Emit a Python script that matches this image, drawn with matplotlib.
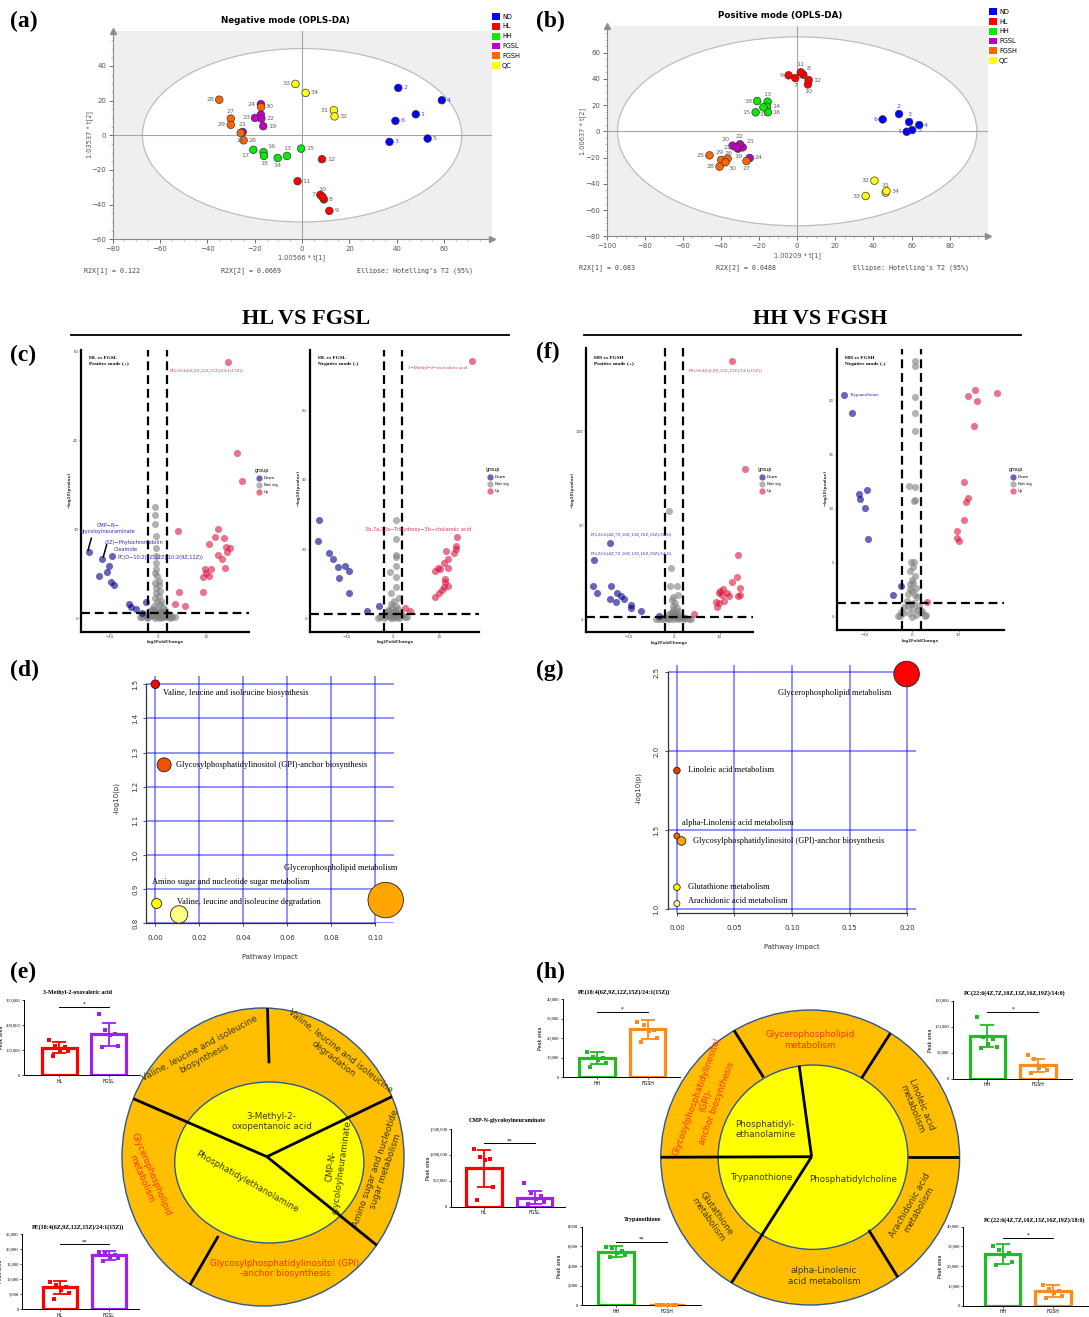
import numpy as np
import matplotlib
matplotlib.use('Agg')
import matplotlib.pyplot as plt
from matplotlib.patches import Ellipse, Patch
from matplotlib.lines import Line2D
from matplotlib.ticker import MultipleLocator, StrMethodFormatter

W, H = 1089, 1317
SERIF = 'Liberation Serif'
SANS = 'DejaVu Sans'
MONO = 'DejaVu Sans Mono'
plt.rcParams['font.family'] = SANS

# ---------------- OPLS-DA scores (a), (b) ----------------
grp_names = ['ND', 'HL', 'HH', 'FGSL', 'FGSH', 'QC']
grp_cols = ['#0000ff', '#ff0000', '#00ee00', '#c000c0', '#ff6600', '#ffff00']
sample_ids = list(range(1, 35))
sample_grp = [0] * 6 + [1] * 6 + [2] * 6 + [3] * 6 + [4] * 6 + [5] * 4

neg_t1 = [48.0, 40.6, 36.9, 59.0, 53.0, 39.4,
          7.7, 9.2, 11.5, 8.6, -1.9, 8.4,
          -6.4, -10.3, -0.4, -16.3, -20.6, -16.1,
          -16.4, -17.4, -25.1, -17.2, -19.9, -17.4,
          -25.9, -24.7, -30.1, -35.0, -30.1, -17.3,
          13.4, 13.7, -2.8, 1.5]
neg_t2 = [12.1, 27.3, -3.8, 20.2, -1.9, 8.3,
          -34.4, -37.0, -43.6, -35.5, -26.5, -13.8,
          -11.9, -13.1, -7.7, -9.8, -8.4, -11.9,
          5.2, 11.9, 1.9, 9.6, 10.0, 17.9,
          1.3, -2.9, 9.6, 20.5, 6.0, 16.3,
          14.4, 10.9, 29.6, 24.4]
neg_lab = ['r', 'r', 'r', 'r', 'r', 'r',
           'l', 'r', 'r', 'u', 'r', 'r',
           'u', 'd', 'r', 'ur', 'dl', 'd',
           'r', '', 'u', 'r', 'l', 'l',
           'd', 'r', 'u', 'l', 'l', 'r',
           'l', 'r', 'l', 'r']

pos_t1 = [57.4, 53.4, 58.7, 64.0, 60.3, 44.8,
          -1.0, 3.2, -4.5, 5.6, 1.9, 6.0,
          -15.5, -15.9, -21.8, -15.4, -17.7, -21.0,
          -31.0, -33.9, -28.6, -30.0, -31.7, -24.9,
          -46.0, -39.8, -26.6, -40.7, -36.5, -37.6,
          46.4, 40.5, 35.9, 46.8]
pos_t2 = [-0.3, 13.2, 7.1, 4.8, 1.0, 9.1,
          40.6, 43.2, 42.7, 35.8, 45.0, 39.1,
          22.6, 18.8, 14.5, 14.5, 18.3, 23.1,
          -13.2, -10.9, -12.2, -9.9, -12.4, -20.3,
          -18.3, -21.8, -22.6, -26.9, -20.8, -23.6,
          -46.7, -37.6, -49.3, -45.5]
pos_lab = ['l', 'u', 'u', 'r', 'r', 'l',
           'd', 'ur', 'l', 'd', 'u', 'r',
           'u', 'r', 'l', 'r', 'd', 'l',
           'd', 'ul', 'ur', 'u', 'l', 'r',
           'l', 'ur', 'd', 'l', 'ul', 'dr',
           'u', 'l', 'l', 'r']

# ---------------- volcano plots (c), (f) ----------------
cl_up_x = [14.6, 16.6, 17.6, 4.3, 12.6, 12.0, 13.9, 10.7, 14.2, 15.2, 14.4, 12.6, 13.4, 14.0,
           9.8, 11.2, 10.1, 10.7, 9.4, 4.5, 9.5, 3.6, 5.6]
cl_up_y = [57.7, 37.2, 30.9, 19.6, 20.1, 18.3, 18.1, 16.6, 16.1, 15.8, 14.8, 14.3, 13.3, 11.3,
           11.0, 11.2, 10.3, 9.5, 9.4, 6.0, 6.0, 3.2, 2.8]
cl_dn_x = [-14.4, -11.6, -9.5, -10.3, -10.7, -12.3, -9.8, -9.2, -6.1, -4.6, -2.4, -5.6, -3.3]
cl_dn_y = [14.8, 13.3, 14.0, 11.8, 10.5, 9.5, 8.2, 7.4, 3.2, 2.2, 3.7, 2.6, 1.2]
cl_ns_x = [-0.5, -0.5, -0.5, -0.4, -0.4, -0.4, -0.4, -0.3, -0.5, -0.2, 0.2, -0.6, 0.3, -0.4,
           0.5, -0.3, 0.2, -0.5, 0.6, -0.2, 0.4, -0.8, 1.0, -1.2, 0.1, 1.5, -1.6, 0.7, -0.9,
           2.2, -2.5, 0.3, 1.8, -1.8, 3.0, -3.2, 0.0, 1.1, -0.6, 2.5, -2.2, 0.5,
           -1.0, 0.8, -0.3, 1.3, -2.0, 2.0, -0.7, 0.9, -1.4, 1.6, -3.8, 3.5, 0.0, -0.2, 0.4,
           -2.8, 2.8, -1.1, 1.2]
cl_ns_y = [25.1, 23.2, 21.2, 18.5, 15.7, 13.9, 12.4, 11.2, 10.3, 9.5, 8.5, 8.0, 7.5, 6.8,
           6.2, 5.6, 5.0, 4.5, 4.0, 3.6, 3.2, 2.8, 2.5, 2.2, 2.0, 1.8, 1.6, 1.5, 1.2,
           1.0, 0.9, 0.8, 0.6, 0.5, 0.4, 0.3, 0.3, 0.2, 0.1, 0.1, 0.1, 0.0,
           0.5, 0.4, 1.0, 1.1, 0.3, 0.2, 1.8, 1.3, 0.8, 0.6, 0.2, 0.2, 1.1, 0.6, 1.6,
           0.7, 0.6, 1.4, 0.9]

cr_up_x = [17.2, 14.1, 13.7, 13.8, 11.7, 13.3, 12.1, 11.1, 12.1, 9.8, 9.3, 10.3, 11.4, 11.5,
           12.0, 11.1, 10.7, 10.2, 9.3, 2.6, 3.7]
cr_up_y = [74.4, 23.4, 20.9, 19.9, 19.5, 18.8, 17.0, 15.9, 14.5, 14.4, 13.8, 14.1, 11.3, 10.6,
           9.3, 9.1, 8.2, 7.2, 6.1, 2.9, 2.2]
cr_dn_x = [-16.2, -16.4, -14.0, -13.1, -12.0, -10.4, -9.5, -11.7, -9.6, -5.7, -3.1]
cr_dn_y = [28.5, 22.4, 19.0, 17.0, 14.9, 15.1, 13.8, 11.5, 7.2, 2.2, 3.6]
cr_ns_x = [0.7, 0.7, 0.7, 0.7, 0.7, 0.7, -0.6, 0.7, -0.4, 1.3, 0.3, -0.5, 0.8, -0.2, 1.2,
           -1.0, 0.5, -1.5, 1.6, 0.0, -0.8, 2.0, -2.2, 0.9, -1.4, 2.6, -2.8, 0.2, 1.4, -0.4,
           -0.1, 0.6, -1.2, 1.0, -2.0, 1.9, -0.6, 0.3, -3.3, 3.0, 0.0, -0.9]
cr_ns_y = [28.4, 22.8, 18.3, 17.8, 15.2, 12.0, 13.5, 9.1, 7.2, 5.8, 5.0, 4.2, 3.6, 3.2, 2.8,
           2.5, 2.2, 1.9, 1.6, 1.5, 1.2, 1.0, 0.9, 0.7, 0.5, 0.4, 0.3, 0.2, 0.1, 0.0,
           0.6, 1.1, 1.0, 0.4, 0.2, 0.7, 0.3, 1.7, 0.2, 0.3, 0.8, 2.0]

fl_up_x = [12.8, 15.7, 14.0, 13.8, 12.7, 14.6, 10.8, 9.8, 10.2, 11.7, 14.6, 14.1, 12.1, 10.5,
           9.2, 9.8, 10.9, 9.5, 4.3]
fl_up_y = [137.4, 80.0, 33.9, 22.5, 19.9, 16.8, 15.8, 14.0, 15.0, 13.7, 12.8, 12.2, 12.2, 12.8,
           9.2, 8.3, 9.8, 6.6, 2.5]
fl_dn_x = [-14.3, -17.8, -17.9, -17.2, -14.0, -12.7, -14.3, -11.9, -13.0, -11.2, -9.6, -9.6,
           -7.4, -3.4]
fl_dn_y = [40.4, 31.2, 17.6, 14.0, 17.6, 13.7, 10.5, 12.2, 9.2, 10.5, 7.4, 5.7, 4.4, 1.6]
fl_ns_x = [-1.1, -0.7, -0.9, 0.5, 0.9, -0.3, -0.6, 0.2, -0.4, 0.5, -0.2, 0.8, -0.8, 0.3, -1.2,
           1.3, -0.5, 1.9, -2.0, 0.6, -2.8, 2.6, -1.5, 1.0, -3.5, 3.2, 0.0, -0.9,
           -0.1, 0.4, -0.6, 1.1, -1.8, 2.2, -2.4, 0.7, -0.3, 1.6, -4.0, 3.8]
fl_ns_y = [57.6, 27.0, 17.6, 17.6, 12.8, 11.9, 10.0, 8.5, 7.0, 6.0, 5.0, 4.2, 3.5, 3.0, 2.5,
           2.0, 1.6, 1.2, 1.0, 0.8, 0.6, 0.5, 0.3, 0.2, 0.2, 0.1, 0.1, 0.0,
           1.4, 2.4, 2.2, 0.9, 0.4, 0.3, 0.2, 1.6, 3.6, 0.5, 0.1, 0.2]

fr_up_x = [13.5, 18.2, 12.0, 13.9, 13.3, 11.1, 12.0, 11.5, 11.1, 9.6, 9.7, 10.0, 3.2]
fr_up_y = [21.0, 20.7, 20.4, 20.0, 17.7, 12.5, 11.0, 10.6, 9.0, 7.9, 7.3, 7.0, 1.4]
fr_dn_x = [-14.5, -12.7, -11.2, -9.5, -11.0, -10.0, -9.4, -4.1, -2.2]
fr_dn_y = [20.5, 18.9, 11.4, 11.7, 10.9, 10.1, 7.2, 2.0, 2.8]
fr_ns_x = [0.6, 0.7, 0.7, 0.7, 0.7, -0.5, 0.7, 0.6, 0.5, -0.1, 0.4, 0.2, -0.3, 0.6, 0.1, -0.4,
           0.9, 0.0, -0.7, 1.2, -1.1, 0.5, 1.6, -1.6, 0.2, 2.2, -2.2, -0.5, 1.0, 2.8, -2.6, 0.0,
           -0.2, 0.8, -0.9, 1.4, -1.9, 1.9, -0.4, 0.3, -3.0, 3.1]
fr_ns_y = [23.7, 23.2, 20.3, 18.9, 17.2, 12.1, 12.0, 10.8, 10.7, 5.1, 5.1, 4.6, 4.2, 3.8, 3.4,
           3.0, 2.7, 2.4, 2.1, 1.8, 1.5, 1.3, 1.0, 0.9, 0.7, 0.5, 0.4, 0.3, 0.2, 0.1, 0.1, 0.0,
           1.2, 2.0, 1.0, 0.6, 0.3, 0.4, 2.6, 3.1, 0.1, 0.2]

# ---------------- pathway bubbles (d), (g) ----------------
d_names = ['Valine, leucine and isoleucine biosynthesis',
           'Glycosylphosphatidylinositol (GPI)-anchor biosynthesis',
           'Glycerophospholipid metabolism',
           'Amino sugar and nucleotide sugar metabolism',
           'Valine, leucine and isoleucine degradation']
d_impact = [0.0, 0.004, 0.1047, 0.0006, 0.0108]
d_logp = [1.50, 1.264, 0.868, 0.858, 0.826]
g_names = ['Glycerophospholipid metabolism', 'Linoleic acid metabolism',
           'alpha-Linolenic acid metabolism',
           'Glycosylphosphatidylinositol (GPI)-anchor biosynthesis',
           'Glutathione metabolism', 'Arachidonic acid metabolism']
g_impact = [0.1994, 0.0, 0.0, 0.004, 0.0, 0.0]
g_logp = [2.489, 1.878, 1.464, 1.432, 1.139, 1.036]

# ---------------- peak area bars (e), (h) ----------------
e1_mean, e1_sd = [110000, 163000], [22000, 45000]
e1_pts = [[140000, 118000, 112000, 100000, 95000, 75000],
          [245000, 181000, 165000, 160000, 117000, 112000]]
e2_mean, e2_sd = [7300, 18000], [2100, 1500]
e2_pts = [[9200, 8100, 7300, 6400, 5300, 3300], [19100, 18600, 18000, 17500, 17000, 16100]]
e3_mean, e3_sd = [740000, 174000], [360000, 130000]
e3_pts = [[1107000, 965000, 914000, 900000, 373000, 128000],
          [450000, 257000, 200000, 150000, 100000, 45000]]
h1_mean, h1_sd = [9700, 24500], [3000, 4700]
h1_pts = [[13100, 10600, 9700, 8900, 7200, 5100], [28400, 26700, 24200, 23800, 20300, 18200]]
h2_mean, h2_sd = [5460, 0], [570, 0]
h2_pts = [[5970, 5800, 5560, 5360, 5120, 4950], [0, 0, 0, 0, 0, 0]]
h3_mean, h3_sd = [82400, 26200], [21000, 12700]
h3_pts = [[118000, 81000, 76000, 68000, 61000, 58800], [46000, 38000, 25000, 21000, 18000, 12000]]
h4_mean, h4_sd = [26200, 7400], [5200, 3200]
h4_pts = [[30400, 28200, 26500, 25300, 22300, 20600], [10300, 8300, 7400, 6600, 4900, 4100]]

fig = plt.figure(figsize=(W / 100, H / 100), dpi=100)


def px_ax(l, t, r, b):
    return fig.add_axes([l / W, 1 - b / H, (r - l) / W, (b - t) / H])


def ftext(x, y, s, **kw):
    return fig.text(x / W, 1 - y / H, s, **kw)


# overlay in pixel units for the two wheel diagrams
ovl = fig.add_axes([0, 0, 1, 1])
ovl.set_xlim(0, W)
ovl.set_ylim(H, 0)
ovl.axis('off')

OFF = {'r': ((3.5, 0), 'left', 'center'), 'l': ((-3.5, 0), 'right', 'center'),
       'u': ((0, 3.5), 'center', 'bottom'), 'd': ((0, -3.5), 'center', 'top'),
       'ur': ((2.5, 2.5), 'left', 'bottom'), 'ul': ((-2.5, 2.5), 'right', 'bottom'),
       'dl': ((-2.5, -2.5), 'right', 'top'), 'dr': ((2.5, -2.5), 'left', 'top')}


def score_panel(box, t1, t2, labs, xlim, ylim, xt, yt, ell, title, tpos,
                xlab, xlpos, ylab, ylpos, r2, r2y, r2x, legpos):
    ax = px_ax(*box)
    ax.set_xlim(*xlim)
    ax.set_ylim(*ylim)
    ax.set_facecolor('#efefef')
    ax.add_patch(Ellipse((0, 0), 2 * ell[0], 2 * ell[1], facecolor='white',
                         edgecolor='#bdbdbd', lw=0.9, zorder=0.5))
    ax.axhline(0, color='#a5a5a5', lw=0.8, zorder=1)
    ax.axvline(0, color='#a5a5a5', lw=0.8, zorder=1)
    for s in ['top', 'right']:
        ax.spines[s].set_visible(False)
    for s in ['left', 'bottom']:
        ax.spines[s].set_color('#8a8a8a')
        ax.spines[s].set_linewidth(0.8)
    ax.set_xticks(xt)
    ax.set_yticks(yt)
    ax.xaxis.set_minor_locator(MultipleLocator(5))
    ax.yaxis.set_minor_locator(MultipleLocator(5))
    ax.tick_params(which='major', labelsize=5, colors='#555555', length=3, width=0.6, pad=1.5)
    ax.tick_params(which='minor', length=1.5, width=0.4, colors='#8a8a8a')
    cols = [grp_cols[g] for g in sample_grp]
    ax.scatter(t1, t2, s=30, c=cols, edgecolors='#3a3a3a', linewidths=0.5, zorder=3)
    for i, (x, y) in enumerate(zip(t1, t2)):
        if not labs[i]:
            continue
        off, ha, va = OFF[labs[i]]
        ax.annotate(str(sample_ids[i]), (x, y), xytext=off, textcoords='offset points',
                    ha=ha, va=va, fontsize=4.6, zorder=4,
                    color='#4a4aff' if sample_grp[i] == 0 else '#666666')
    ax.plot([1], [0], marker='>', transform=ax.transAxes, clip_on=False, color='#909090', ms=4)
    ax.plot([0], [1], marker='^', transform=ax.transAxes, clip_on=False, color='#909090', ms=4)
    ftext(*tpos, title, ha='center', va='center', fontsize=6.3, fontweight='bold')
    ftext(*xlpos, xlab, ha='center', va='center', fontsize=4.8, color='#555555')
    ftext(*ylpos, ylab, ha='center', va='center', fontsize=4.8, color='#555555', rotation=90)
    for s, x in zip(r2, r2x):
        ftext(x, r2y, s, ha='left', va='center', fontsize=4.8, family=MONO, color='#444444')
    handles = [Patch(facecolor=c, edgecolor='none', label=n) for n, c in zip(grp_names, grp_cols)]
    ax.legend(handles=handles, loc='upper left', bbox_to_anchor=(legpos[0] / W, 1 - legpos[1] / H),
              bbox_transform=fig.transFigure, frameon=False, fontsize=4.8, handlelength=1.2,
              handleheight=1.2, handletextpad=0.3, labelspacing=0.45, borderpad=0, borderaxespad=0)


score_panel((112.6, 31.2, 491.6, 239.3), neg_t1, neg_t2, neg_lab, (-80, 80), (-60, 60),
            np.arange(-80, 61, 20), np.arange(-60, 41, 20), (67.4, 50.0),
            'Negative mode (OPLS-DA)', (285, 20.7), '1.00566 * t[1]', (302, 258),
            '1.03537 * t[2]', (90, 135), ['R2X[1] = 0.122', 'R2X[2] = 0.0669',
                                          "Ellipse: Hotelling's T2 (95%)"],
            271, [84, 221, 357], (492, 13))
score_panel((606.5, 26.4, 987.9, 236.3), pos_t1, pos_t2, pos_lab, (-100, 100), (-80, 80),
            np.arange(-100, 81, 20), np.arange(-80, 61, 20), (94.2, 72.0),
            'Positive mode (OPLS-DA)', (780.5, 15.7), '1.00209 * t[1]', (797, 256),
            '1.00637 * t[2]', (582.7, 131), ['R2X[1] = 0.083', 'R2X[2] = 0.0488',
                                             "Ellipse: Hotelling's T2 (95%)"],
            268, [579, 716, 853], (989, 8))

# ---------------- volcano plots ----------------
RED_T = '#e8305a'
BLUE_T = '#2a2ab8'


def volcano(box, xlim, ylim, yt, up, down, ns, head, legpos, xlpos, ylpos, labels, lines=()):
    ax = px_ax(*box)
    ax.set_xlim(*xlim)
    ax.set_ylim(*ylim)
    ax.scatter(ns[0], ns[1], s=26, color='#808080', alpha=0.6, lw=0, zorder=2)
    ax.scatter(down[0], down[1], s=26, color='#00008b', alpha=0.6, lw=0, zorder=2)
    ax.scatter(up[0], up[1], s=26, color='#dc143c', alpha=0.6, lw=0, zorder=2)
    dash = (0, (4, 2.2))
    ax.axhline(1.3, color='black', lw=1.6, ls=dash, zorder=3)
    for v in (-2, 2):
        ax.axvline(v, color='black', lw=1.6, ls=dash, zorder=3)
    for s in ['top', 'right']:
        ax.spines[s].set_visible(False)
    for s in ['left', 'bottom']:
        ax.spines[s].set_linewidth(1.6)
    ax.set_xticks([-10, 0, 10])
    ax.set_yticks(yt)
    ax.tick_params(labelsize=2.8, length=1.2, width=0.4, pad=1, colors='#444444')
    ax.set_facecolor('none')
    ftext(box[0] + 8, 356, head, ha='left', va='top', fontsize=3.8, family=SERIF,
          fontweight='bold', linespacing=1.5)
    ftext(*xlpos, 'log2FoldChange', ha='center', va='center', fontsize=3, fontweight='bold',
          color='#333333')
    ftext(*ylpos, '\u2212log10(pvalue)', ha='center', va='center', fontsize=3, fontweight='bold',
          color='#333333', rotation=90)
    for s, x, y, c, fam, ha in labels:
        ax.text(x, y, s, color=c, family=fam, ha=ha, va='center', fontsize=3.6, zorder=4,
                linespacing=1.3)
    for (x0, y0), (x1, y1) in lines:
        ax.plot([x0, x1], [y0, y1], color='black', lw=1.1, zorder=4)
    handles = [Line2D([], [], marker='o', ls='', color=c, alpha=0.6, ms=4.5, mew=0)
               for c in ('#00008b', '#808080', '#dc143c')]
    ax.legend(handles, ['Down', 'Not sig', 'Up'], title='group', loc='upper left',
              bbox_to_anchor=(legpos[0] / W, 1 - legpos[1] / H), bbox_transform=fig.transFigure,
              frameon=False, fontsize=2.8, title_fontsize=3.5, handletextpad=0.2,
              labelspacing=0.8, borderpad=0, borderaxespad=0, alignment='left')
    return ax


volcano((81.3, 350, 248.6, 631.7), (-16, 19), (-3, 60.3), [0, 20, 40, 60],
        (cl_up_x, cl_up_y), (cl_dn_x, cl_dn_y), (cl_ns_x, cl_ns_y),
        'HL vs FGSL\nPositive mode (+)', (255, 468), (165, 642), (70, 490),
        [('PE(18:4(6Z,9Z,12Z,15Z)/24:1(15Z))', 2.5, 55.7, RED_T, SERIF, 'left'),
         ('CMP\u2212N\u2212\nglycoloylneuraminate', -10.3, 20.2, BLUE_T, SANS, 'center'),
         ('(3Z)\u2212Phytochromobilin', -11.2, 17.1, BLUE_T, SANS, 'left'),
         ('Oleamide', -9.2, 15.5, BLUE_T, SANS, 'left'),
         ('PC(O\u221210:2(9Z,12Z)/10:2(9Z,12Z))', -8.4, 13.6, BLUE_T, SANS, 'left')],
        lines=[((-14.6, 15.3), (-13.9, 18.0)), ((-11.4, 13.8), (-10.7, 16.5))])
volcano((310, 350, 479.3, 631.7), (-18.1, 18.9), (-3.9, 77.6), [0, 20, 40, 60],
        (cr_up_x, cr_up_y), (cr_dn_x, cr_dn_y), (cr_ns_x, cr_ns_y),
        'HL vs FGSL\nNegative mode (-)', (486, 467), (395, 642), (299, 488),
        [('3\u2212Methyl\u22122\u2212oxovaleric acid', 3.3, 72.3, RED_T, SERIF, 'left'),
         ('3b,7a,12a\u2212Trihydroxy\u22125b\u2212cholanoic acid', -6.1, 25.7, RED_T, SANS, 'left')])
volcano((586.2, 348.3, 752.5, 631.7), (-19.5, 17.3), (-6.7, 144), [0, 50, 100],
        (fl_up_x, fl_up_y), (fl_dn_x, fl_dn_y), (fl_ns_x, fl_ns_y),
        'HH vs FGSH\nPositive mode (+)', (758, 467), (669.6, 643), (573, 490),
        [('PE(18:4(6Z,9Z,12Z,15Z)/24:1(15Z))', 3.2, 132, RED_T, SERIF, 'left'),
         ('PC(22:6(4Z,7Z,10Z,13Z,16Z,19Z)/18:0)', -18.5, 44.7, BLUE_T, SERIF, 'left'),
         ('PC(22:6(4Z,7Z,10Z,13Z,16Z,19Z)/14:0)', -18.5, 34.6, BLUE_T, SERIF, 'left')])
volcano((836.9, 349.3, 1003.9, 630), (-16, 19.7), (-1.23, 24.76), [0, 5, 10, 15, 20],
        (fr_up_x, fr_up_y), (fr_dn_x, fr_dn_y), (fr_ns_x, fr_ns_y),
        'HH vs FGSH\nNegative mode (-)', (1009, 467), (920.6, 641), (825.4, 488),
        [('Trypanothione', -13.3, 20.5, BLUE_T, SERIF, 'left')])

# section titles with rules
for s, x, x0, x1 in [('HL VS FGSL', 306.5, 71.3, 509), ('HH VS FGSH', 820, 583.8, 1020.7)]:
    ftext(x, 319, s, ha='center', va='center', fontsize=16, family=SERIF, fontweight='bold')
    fig.add_artist(Line2D([x0 / W, x1 / W], [1 - 334.5 / H] * 2, color='black', lw=1.3))


# ---------------- pathway bubble plots ----------------
def bubble(box, xlim, ylim, xt, yt, xb, yb, imp, lp, sizes, cols, names, lab_xy, xlpos, ylpos,
           xfmt):
    ax = px_ax(*box)
    ax.set_xlim(*xlim)
    ax.set_ylim(*ylim)
    ax.set_xticks(xt)
    ax.set_yticks(yt)
    ax.xaxis.set_major_formatter(StrMethodFormatter(xfmt))
    ax.grid(True, color='#0000ff', alpha=0.55, lw=1.1)
    ax.set_axisbelow(True)
    for s in ['top', 'right']:
        ax.spines[s].set_visible(False)
    ax.spines['left'].set_bounds(*yb)
    ax.spines['bottom'].set_bounds(*xb)
    for s in ['left', 'bottom']:
        ax.spines[s].set_color('#333333')
        ax.spines[s].set_linewidth(0.9)
    ax.tick_params(labelsize=5, colors='#333333', length=2.5, width=0.6)
    ax.tick_params(axis='x', pad=6)
    ax.tick_params(axis='y', pad=3.5, labelrotation=90)
    for t in ax.get_yticklabels():
        t.set_va('center')
    s = [(2 * r * 0.72) ** 2 for r in sizes]
    ax.scatter(imp, lp, s=s, c=cols, edgecolors='#222222', linewidths=0.6, zorder=3, clip_on=False)
    for n, (x, y) in zip(names, lab_xy):
        ax.text(x, y, n, family=SERIF, fontsize=6, ha='left', va='center', zorder=4)
    ftext(*xlpos, 'Pathway Impact', ha='center', va='center', fontsize=5, color='#333333')
    ftext(*ylpos, '-log10(p)', ha='center', va='center', fontsize=5, color='#333333', rotation=90)


bubble((146.4, 675.7, 394.3, 923.3), (-0.00405, 0.1086), (0.8, 1.525),
       [0, 0.02, 0.04, 0.06, 0.08, 0.10], np.round(np.arange(0.8, 1.51, 0.1), 1),
       (-0.00405, 0.10), (0.8, 1.5), d_impact, d_logp, [4.3, 7.0, 17.7, 5.0, 8.7],
       ['#ff0000', '#f25200', '#ffa500', '#ffff00', '#ffff80'], d_names,
       [(0.0034, 1.474), (0.0095, 1.264), (0.0587, 0.963), (-0.0017, 0.921), (0.0100, 0.863)],
       (270.3, 957.3), (116, 798.3), '{x:.2f}')
bubble((667.8, 665, 915.7, 912.7), (-0.0079, 0.2073), (0.978, 2.546),
       [0, 0.05, 0.10, 0.15, 0.20], [1.0, 1.5, 2.0, 2.5],
       (0, 0.20), (1.0, 2.5), g_impact, g_logp, [12.8, 3.3, 3.0, 4.3, 3.3, 3.0],
       ['#ff0000', '#e83a00', '#e86a00', '#ffa500', '#ffff00', '#ffff99'], g_names,
       [(0.0878, 2.367), (0.01, 1.882), (0.0046, 1.548), (0.0143, 1.432), (0.01, 1.139),
        (0.01, 1.055)],
       (792, 946.7), (638.7, 788.3), '{x:.2f}')

# ---------------- wheel diagrams ----------------
ORANGE = '#ffbe00'
YELLOW = '#ffff00'
EDGE = '#2f5597'
DARK = '#3a3a00'
REDT = '#ff3300'


def wheel(outer, inner, lines, texts):
    (ocx, ocy, orx, ory), (icx, icy, irx, iry) = outer, inner
    op = Ellipse((ocx, ocy), 2 * orx, 2 * ory, facecolor=ORANGE, edgecolor=EDGE, lw=1.0, zorder=1)
    ovl.add_patch(op)
    ovl.add_patch(Ellipse((icx, icy), 2 * irx, 2 * iry, facecolor=YELLOW, edgecolor=EDGE, lw=1.0,
                          zorder=2))
    for (x0, y0), (x1, y1) in lines:
        ln, = ovl.plot([x0, x1], [y0, y1], color='black', lw=2.0, zorder=3,
                       solid_capstyle='butt')
        ln.set_clip_path(op)
    for s, x, y, rot, c in texts:
        ovl.text(x, y, s, ha='center', va='center', rotation=rot, rotation_mode='anchor',
                 fontsize=6.3, color=c, multialignment='center', zorder=4, linespacing=1.2)


wheel((263, 1157, 141, 149), (269.3, 1162.5, 94.6, 80.5),
      [((266.9, 1156.7), (118, 1092)), ((266.9, 1156.7), (412, 1087)),
       ((266.9, 1156.7), (400, 1264)), ((267.3, 1000), (269, 1063.3)),
       ((218.3, 1236), (183, 1297))],
      [('3-Methyl-2-\noxopentanoic acid', 271.7, 1121.7, 0, DARK),
       ('CMP-N-\nglycoloylneuraminate', 336.7, 1166.7, 82, DARK),
       ('Phosphatidylethanolamine', 246.7, 1181.7, -29.5, DARK),
       ('Valine, leucine and isoleucine\nbiosynthesis', 201.7, 1053.3, 28, DARK),
       ('Valine, leucine and isoleucine\ndegradation', 336.7, 1055, -38, DARK),
       ('Amino sugar and nucleotide\nsugar metabolism', 380.4, 1170, 71, DARK),
       ('Glycerophospholipid\nmetabolism', 146.7, 1176.7, -67, REDT),
       ('Glycosylphosphatidylinositol (GPI)\n-anchor biosynthesis', 285, 1268.3, 0, REDT)])
wheel((810.2, 1157.5, 149.4, 147.5), (813, 1157.2, 94.9, 92.2),
      [((811.6, 1156.7), (799.2, 1065.7)), ((811.6, 1156.7), (650, 1157.3)),
       ((811.6, 1156.7), (725, 1293)), ((763.5, 1077.3), (725, 1016)),
       ((861.5, 1078.3), (895, 1026)), ((907.9, 1157.3), (970, 1157.3)),
       ((868.7, 1230), (902, 1284))],
      [('Phosphatidyl-\nethanolamine', 765.3, 1129.3, 0, DARK),
       ('Trypanothione', 761, 1177.3, 0, DARK),
       ('Phosphatidylcholine', 852.6, 1179.3, 0, DARK),
       ('Glycerophospholipid\nmetabolism', 809.9, 1040, 0, REDT),
       ('Glycosylphosphatidylinositol\n(GPI)-\nanchor biosynthesis', 706.5, 1100, 70, REDT),
       ('Linoleic acid\nmetabolism', 916.8, 1106.7, -68, DARK),
       ('Glutathione\nmetabolism', 711.8, 1216.7, -55, DARK),
       ('alpha-Linolenic\nacid metabolism', 824.1, 1276, 0, DARK),
       ('Arachidonic acid\nmetabolism', 914.3, 1207.3, 60, DARK)])

# ---------------- peak area bar charts ----------------
JIT = [-0.2, -0.08, 0.12, 0.02, 0.18, -0.13]
C_HL, C_FGSL, C_HH, C_FGSH = '#ff0000', '#a020f0', '#22bb22', '#ff8c1a'


def peak_bar(box, xlim, title, tpos, groups, means, sds, pts, cols, ylim, ystep, sig_y, stars):
    ax = px_ax(*box)
    ax.set_facecolor('none')
    ax.set_xlim(*xlim)
    ax.set_ylim(*ylim)
    x = np.arange(2)
    ax.bar(x, means, width=0.7, facecolor='white', edgecolor=cols, linewidth=2.3, zorder=2)
    for i in range(2):
        ax.errorbar(x[i], means[i], yerr=sds[i], fmt='none', ecolor=cols[i], elinewidth=1.3,
                    capsize=5, capthick=1.3, zorder=3)
        ax.scatter(x[i] + np.array(JIT), pts[i], s=5, marker='s', color=cols[i], lw=0, zorder=4,
                   clip_on=False)
    ax.plot([0, 1], [sig_y, sig_y], color='black', lw=0.7)
    ax.text(0.5, sig_y, stars, ha='center', va='bottom', fontsize=4)
    for s in ['top', 'right']:
        ax.spines[s].set_visible(False)
    for s in ['left', 'bottom']:
        ax.spines[s].set_linewidth(0.7)
    ax.set_xticks(x)
    ax.set_xticklabels(groups)
    ax.set_yticks(np.arange(0, ylim[1] + 1, ystep))
    ax.yaxis.set_major_formatter(StrMethodFormatter('{x:,.0f}'))
    ax.tick_params(labelsize=3.3, length=1.5, width=0.5, pad=1)
    for t in ax.get_yticklabels():
        t.set_family(SERIF)
    ax.set_ylabel('Peak area', fontsize=3.4)
    lab_x = max(box[0] - 20, 2.6)
    ax.yaxis.set_label_coords((lab_x - box[0]) / (box[2] - box[0]), 0.5)
    ftext(*tpos, title, ha='center', va='center', fontsize=4.3, family=SERIF, fontweight='bold')


peak_bar((23.9, 1000, 139.3, 1075.3), (-0.714, 1.615), '3-Methyl-2-oxovaleric acid',
         (77.9, 992.3), ['HL', 'FGSL'], e1_mean, e1_sd, e1_pts, [C_HL, C_FGSL],
         (0, 300000), 100000, 273000, '*')
peak_bar((22.1, 1234, 139.3, 1309.3), (-0.775, 1.622), 'PE(18:4(6Z,9Z,12Z,15Z)/24:1(15Z))',
         (77.9, 1226.7), ['HL', 'FGSL'], e2_mean, e2_sd, e2_pts, [C_HL, C_FGSL],
         (0, 25000), 5000, 21600, '**')
peak_bar((450.7, 1129, 565, 1206.7), (-0.655, 1.6), 'CMP-N-glycoloylneuraminate',
         (507, 1120.7), ['HL', 'FGSL'], e3_mean, e3_sd, e3_pts, [C_HL, C_FGSL],
         (0, 1500000), 500000, 1222000, '**')
peak_bar((562.8, 999, 679.7, 1077.3), (-0.676, 1.634), 'PE(18:4(6Z,9Z,12Z,15Z)/24:1(15Z))',
         (624.5, 991.7), ['HH', 'FGSH'], h1_mean, h1_sd, h1_pts, [C_HH, C_FGSH],
         (0, 40000), 10000, 33500, '*')
peak_bar((581.7, 1226.7, 701.1, 1305.3), (-0.678, 1.663), 'Trypanothione',
         (642.3, 1219), ['HH', 'FGSH'], h2_mean, h2_sd, h2_pts, [C_HH, C_FGSH],
         (0, 8000), 2000, 6470, '**')
peak_bar((952.5, 1000.7, 1071.9, 1079), (-0.69, 1.67), 'PC(22:6(4Z,7Z,10Z,13Z,16Z,19Z)/14:0)',
         (1014.8, 993.3), ['HH', 'FGSH'], h3_mean, h3_sd, h3_pts, [C_HH, C_FGSH],
         (0, 150000), 50000, 129000, '*')
peak_bar((963.2, 1226.7, 1087.9, 1305.7), (-0.785, 1.694), 'PC(22:6(4Z,7Z,10Z,13Z,16Z,19Z)/18:0)',
         (1034.5, 1220), ['HH', 'FGSH'], h4_mean, h4_sd, h4_pts, [C_HH, C_FGSH],
         (0, 40000), 10000, 34400, '*')

# panel letters
for s, x, y in [('(a)', 10, 21), ('(b)', 536, 21), ('(c)', 10, 355), ('(f)', 536, 352),
                ('(d)', 10, 670), ('(g)', 536, 670), ('(e)', 10, 972), ('(h)', 536, 972)]:
    ftext(x, y, s, ha='left', va='center', fontsize=17, family=SERIF, fontweight='bold')

fig.savefig('out.png', dpi=100)
